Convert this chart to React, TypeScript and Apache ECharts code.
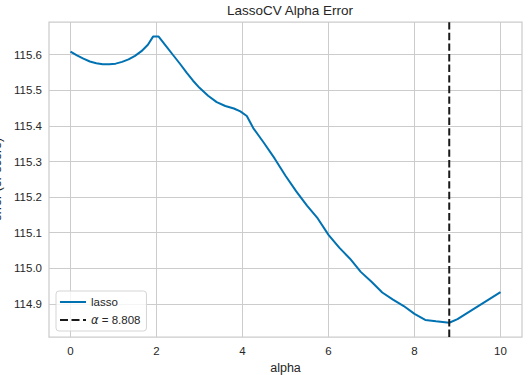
import React, { useEffect, useRef } from "react";
import * as echarts from "echarts";

const ALPHAS = [0, 0.15, 0.3, 0.45, 0.6, 0.75, 0.9, 1.05, 1.2, 1.35, 1.5, 1.65, 1.8, 1.92, 2.05, 2.2, 2.38, 2.55, 2.7, 2.85, 3.0, 3.2, 3.4, 3.6, 3.8, 3.95, 4.1, 4.25, 4.5, 4.75, 5.0, 5.25, 5.5, 5.75, 6.0, 6.25, 6.5, 6.75, 7.0, 7.25, 7.5, 7.75, 8.0, 8.25, 8.5, 8.808, 9.0, 9.5, 10.0];
const ERRORS = [115.609, 115.598, 115.589, 115.581, 115.576, 115.573, 115.573, 115.575, 115.580, 115.587, 115.597, 115.610, 115.628, 115.651, 115.651, 115.628, 115.600, 115.574, 115.550, 115.527, 115.507, 115.485, 115.467, 115.456, 115.449, 115.441, 115.428, 115.394, 115.352, 115.308, 115.260, 115.216, 115.176, 115.140, 115.094, 115.058, 115.027, 114.990, 114.962, 114.932, 114.912, 114.894, 114.872, 114.855, 114.851, 114.847, 114.857, 114.895, 114.933];
const BEST_ALPHA = 8.808;
const X_TICKS = [0, 2, 4, 6, 8, 10];
const Y_TICKS = [114.9, 115.0, 115.1, 115.2, 115.3, 115.4, 115.5, 115.6];
const X_MIN = -0.5;
const X_MAX = 10.5;
const Y_MIN = 114.807;
const Y_MAX = 115.692;

const FONT = "'Liberation Sans', Arial, sans-serif";
const TXT = "#262626";
const LINE_ICON = "path://M0,0h26v2h-26z";
const DASH_ICON = "path://M0,0h8v2h-8z M11.5,0h8v2h-8z M23,0h3v2h-3z";

export default function App() {
  const ref = useRef<HTMLDivElement>(null);
  useEffect(() => {
    if (!ref.current) return;
    const chart = echarts.init(ref.current, undefined, { renderer: "svg" });
    const bestName = "α = " + BEST_ALPHA.toFixed(3);
    chart.setOption({
      animation: false,
      backgroundColor: "#ffffff",
      title: {
        text: "LassoCV Alpha Error",
        left: 285,
        textAlign: "center",
        top: 0,
        padding: [3, 5, 3, 5],
        textStyle: { fontFamily: FONT, fontSize: 13.5, fontWeight: "normal", color: TXT },
      },
      grid: {
        left: 49,
        right: 7,
        top: 22,
        bottom: 38,
        outerBoundsMode: "none",
        containLabel: false,
        show: true,
        borderColor: "#cccccc",
        borderWidth: 1.25,
        backgroundColor: "transparent",
      },
      legend: {
        orient: "vertical",
        left: 56,
        top: 291,
        padding: [5, 6, 5, 4],
        itemGap: 6,
        itemWidth: 26,
        itemHeight: 12,
        backgroundColor: "rgba(255,255,255,0.8)",
        borderColor: "#d5d5d5",
        borderWidth: 1,
        borderRadius: 3,
        data: [
          { name: "lasso", icon: LINE_ICON },
          { name: bestName, icon: DASH_ICON },
        ],
        formatter: (name: string) => (name === "lasso" ? name : "{i|α} = " + BEST_ALPHA.toFixed(3)),
        textStyle: {
          fontFamily: FONT,
          fontSize: 11.5,
          color: TXT,
          rich: {
            i: { fontFamily: "'DejaVu Sans', sans-serif", fontStyle: "italic", fontSize: 11.5, color: TXT },
          },
        },
      },
      xAxis: {
        type: "value",
        min: X_MIN,
        max: X_MAX,
        name: "alpha",
        nameLocation: "middle",
        nameGap: 23,
        nameTextStyle: { fontFamily: FONT, fontSize: 12.5, color: TXT },
        axisLine: { show: false },
        axisTick: { show: false, customValues: X_TICKS },
        axisLabel: { customValues: X_TICKS, margin: 8, fontFamily: FONT, fontSize: 11.5, color: TXT },
        splitLine: { show: true, lineStyle: { color: "#cccccc", width: 1 } },
      },
      yAxis: {
        type: "value",
        min: Y_MIN,
        max: Y_MAX,
        name: "error (or score)",
        nameLocation: "middle",
        nameGap: 45,
        nameRotate: 90,
        nameTextStyle: { fontFamily: FONT, fontSize: 12.5, color: TXT },
        axisLine: { show: false },
        axisTick: { show: false, customValues: Y_TICKS },
        axisLabel: {
          customValues: Y_TICKS,
          margin: 7,
          fontFamily: FONT,
          fontSize: 11.5,
          color: TXT,
          formatter: (v: number) => v.toFixed(1),
        },
        splitLine: { show: true, lineStyle: { color: "#cccccc", width: 1 } },
      },
      series: [
        {
          name: "lasso",
          type: "line",
          symbol: "none",
          smooth: false,
          data: ALPHAS.map((a, i) => [a, ERRORS[i]]),
          lineStyle: { color: "#0072B2", width: 2 },
          itemStyle: { color: "#0072B2" },
        },
        {
          name: bestName,
          type: "line",
          symbol: "none",
          data: [
            [BEST_ALPHA, Y_MIN],
            [BEST_ALPHA, Y_MAX],
          ],
          lineStyle: { color: "#1a1a1a", width: 2, type: [7.4, 3.2] },
          itemStyle: { color: "#1a1a1a" },
        },
      ],
    });
    return () => chart.dispose();
  }, []);
  return (
    <div
      ref={ref}
      style={{ position: "fixed", left: 0, top: 0, width: 529, height: 375 }}
    />
  );
}
